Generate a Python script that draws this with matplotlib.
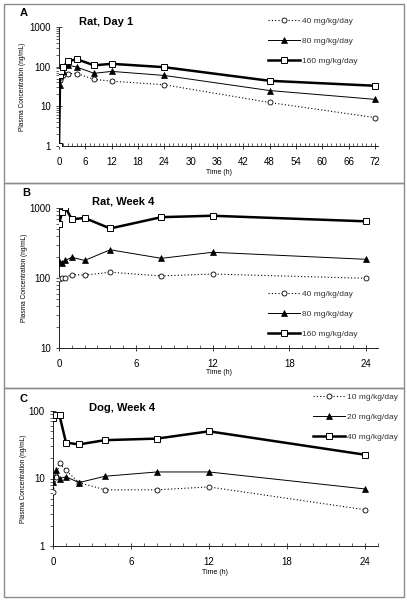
import matplotlib
matplotlib.use("Agg")
import matplotlib.pyplot as plt
from matplotlib.patches import Rectangle
from matplotlib.lines import Line2D
from matplotlib.ticker import MultipleLocator, LogLocator, NullFormatter, FixedLocator

plt.rcParams['font.family'] = ['Liberation Sans', 'DejaVu Sans']

# ---------------- data ----------------
# Panel A: Rat, Day 1
time_a = [0, 0.25, 0.5, 1, 2, 4, 8, 12, 24, 48, 72]
rat_d1_40 = [1, 45, 55, 62, 67, 67, 48, 43, 35, 12.5, 5.2]
rat_d1_80 = [1, 35, 75, 80, 110, 98, 68, 76, 60, 25, 15]
rat_d1_160 = [1, 60, 80, 100, 135, 155, 108, 118, 97, 44, 33]

# Panel B: Rat, Week 4
time_b = [0, 0.25, 0.5, 1, 2, 4, 8, 12, 24]
rat_w4_40 = [96, 99, 101, 112, 110, 121, 107, 114, 99]
rat_w4_80 = [175, 165, 178, 198, 178, 253, 191, 233, 185]
rat_w4_160 = [590, 880, 1020, 690, 720, 510, 740, 775, 645]

# Panel C: Dog, Week 4
time_c = [0, 0.25, 0.5, 1, 2, 4, 8, 12, 24]
dog_w4_10 = [6.3, 10.5, 16.8, 13.2, 8.7, 6.8, 6.8, 7.5, 3.45]
dog_w4_20 = [8.8, 13.2, 10.0, 10.6, 8.7, 10.8, 12.5, 12.5, 7.0]
dog_w4_40 = [80, 86, 86, 34, 32, 37, 39, 50, 22.5]

labels_a = ['40 mg/kg/day', '80 mg/kg/day', '160 mg/kg/day']
labels_c = ['10 mg/kg/day', '20 mg/kg/day', '40 mg/kg/day']
titles = ['Rat, Day 1', 'Rat, Week 4', 'Dog, Week 4']
letters = ['A', 'B', 'C']
ylabel = 'Plasma Concentration (ng/mL)'
xlabel = 'Time (h)'

# ---------------- layout helpers ----------------
W, H = 407, 600
fig = plt.figure(figsize=(W / 100, H / 100), dpi=100)


def fx(px):
    return px / W


def fy(py):
    return 1 - py / H


def add_axes(left, right, top, bottom):
    return fig.add_axes([fx(left), fy(bottom), fx(right) - fx(left), fy(top) - fy(bottom)])


# panel borders
for top, bot in [(4, 183), (183, 388), (388, 597)]:
    fig.patches.append(Rectangle((fx(4), fy(bot)), fx(404) - fx(4), fy(top) - fy(bot),
                                 transform=fig.transFigure, fill=False,
                                 edgecolor='#8c8c8c', lw=1.0))

style_low = dict(color='black', lw=0.8, ls=(0, (1, 2)), marker='o', ms=3.6,
                 mfc='white', mec='black', mew=0.6)
style_mid = dict(color='black', lw=0.7, ls='-', marker='^', ms=4.2,
                 mfc='black', mec='black', mew=0.5)
style_high = dict(color='black', lw=1.8, ls='-', marker='s', ms=4.2,
                  mfc='white', mec='black', mew=0.7)


def style_axes(ax, xmax, xminor, ylim, yticks):
    ax.set_yscale('log')
    ax.set_ylim(*ylim)
    ax.set_xlim(0, xmax)
    for s in ['top', 'right']:
        ax.spines[s].set_visible(False)
    for s in ['left', 'bottom']:
        ax.spines[s].set_linewidth(0.7)
        ax.spines[s].set_color('#222222')
    ax.yaxis.set_major_locator(FixedLocator(yticks))
    ax.set_yticklabels([str(t) for t in yticks])
    ax.yaxis.set_minor_locator(LogLocator(base=10, subs=range(2, 10)))
    ax.yaxis.set_minor_formatter(NullFormatter())
    ax.xaxis.set_major_locator(MultipleLocator(6))
    ax.xaxis.set_minor_locator(MultipleLocator(xminor))
    ax.tick_params(axis='both', which='major', labelsize=7, length=4, width=0.6,
                   direction='inout', colors='#222222', labelcolor='black')
    ax.tick_params(axis='x', which='major', pad=6)
    ax.tick_params(axis='y', which='major', pad=4)
    ax.tick_params(axis='y', which='minor', length=2.2, width=0.5, direction='out',
                   colors='#222222')
    ax.tick_params(axis='x', which='minor', length=2.2, width=0.5, direction='in',
                   colors='#222222')
    ax.patch.set_alpha(0)


def add_legend(ax, labels, x_left, y_top):
    handles = [Line2D([], [], **style_low), Line2D([], [], **style_mid),
               Line2D([], [], **style_high)]
    ax.legend(handles, labels, loc='upper left', bbox_to_anchor=(fx(x_left), fy(y_top)),
              bbox_transform=fig.transFigure, frameon=False, fontsize=6,
              handlelength=3.8, handletextpad=0.3, labelspacing=1.45,
              borderpad=0, borderaxespad=0, labelcolor='#333333')


def decorate(ax, idx, ylab_px_x, title_xy, letter_xy, xlab_py):
    ax.set_ylabel(ylabel, fontsize=4.7)
    pos = ax.get_position()
    ax.yaxis.set_label_coords((fx(ylab_px_x) - pos.x0) / pos.width, 0.5)
    ax.set_xlabel(xlabel, fontsize=5)
    ax.xaxis.set_label_coords(0.5 * (pos.x0 + pos.x1), fy(xlab_py), transform=fig.transFigure)
    ax.xaxis.label.set_verticalalignment('center')
    fig.text(fx(title_xy[0]), fy(title_xy[1]), titles[idx], fontsize=8, fontweight='bold',
             ha='left', va='center')
    fig.text(fx(letter_xy[0]), fy(letter_xy[1]), letters[idx], fontsize=8,
             fontweight='bold', ha='left', va='center')


# ---------------- Panel A ----------------
axA = add_axes(59, 378, 27, 146)
axA.plot(time_a, rat_d1_40, **style_low, zorder=3)
axA.plot(time_a, rat_d1_80, **style_mid, zorder=4)
axA.plot(time_a, rat_d1_160, **style_high, zorder=5)
style_axes(axA, 72 * 319 / 316, 1, (1, 1000), [1, 10, 100, 1000])
decorate(axA, 0, 26, (79, 22), (20, 13), 173)
add_legend(axA, labels_a, 268, 17)

# ---------------- Panel B ----------------
axB = add_axes(59, 378, 208, 348)
axB.plot(time_b, rat_w4_40, **style_low, zorder=3)
axB.plot(time_b, rat_w4_80, **style_mid, zorder=4)
axB.plot(time_b, rat_w4_160, **style_high, zorder=5)
style_axes(axB, 24 * 319 / 307, 1, (10, 1000), [10, 100, 1000])
decorate(axB, 1, 28, (92, 202), (22, 193), 373)
add_legend(axB, labels_a, 268, 290)

# ---------------- Panel C ----------------
axC = add_axes(53, 378, 411, 546)
axC.plot(time_c, dog_w4_10, **style_low, zorder=3)
axC.plot(time_c, dog_w4_20, **style_mid, zorder=4)
axC.plot(time_c, dog_w4_40, **style_high, zorder=5)
style_axes(axC, 24 * 325 / 312, 1, (1, 100), [1, 10, 100])
decorate(axC, 2, 27, (89, 408), (20, 399), 573)
add_legend(axC, labels_c, 313, 393)

fig.savefig('out.png', dpi=100, facecolor='white')
